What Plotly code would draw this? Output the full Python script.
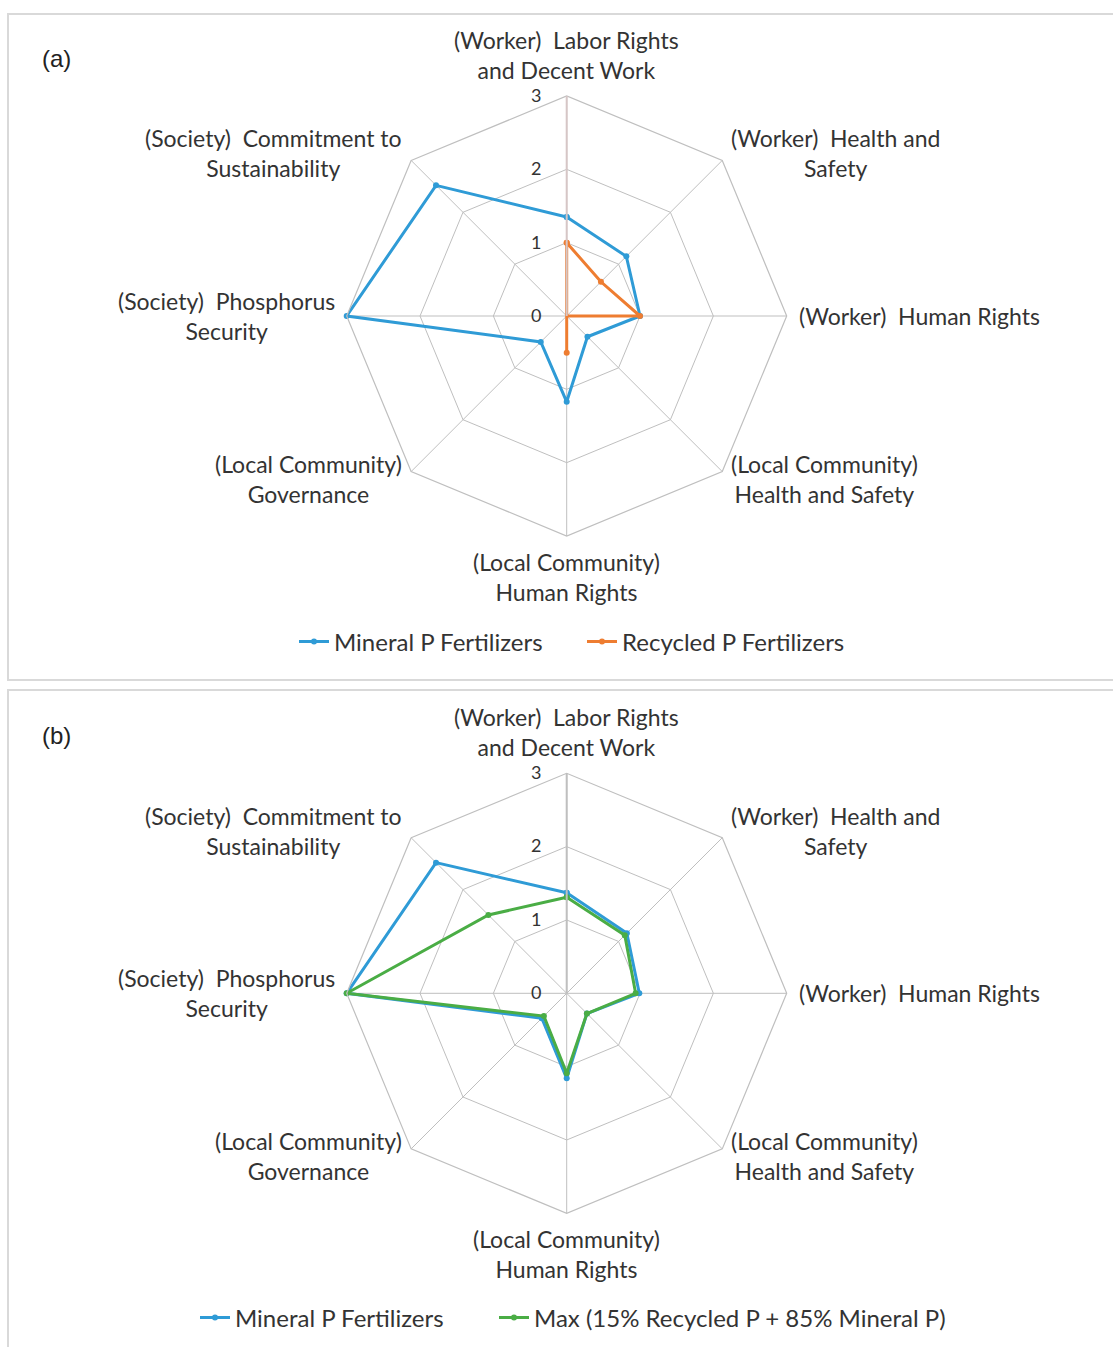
import math
import plotly.graph_objects as go

W, H = 1113, 1347

# Social-indicator axes, clockwise from the top
categories = [
    "(Worker)\u00a0 Labor Rights<br>and Decent Work",
    "(Worker)\u00a0 Health and<br>Safety",
    "(Worker)\u00a0 Human Rights",
    "(Local Community)<br>Health and Safety",
    "(Local Community)<br>Human Rights",
    "(Local Community)<br>Governance",
    "(Society)\u00a0 Phosphorus<br>Security",
    "(Society)\u00a0 Commitment to<br>Sustainability",
]

# Panel (a)
mineral_a = [1.35, 1.15, 1.0, 0.4, 1.17, 0.5, 3.0, 2.52]
recycled_a = [1.0, 0.66, 1.0, 0.0, 0.5, 0.0, 0.0, 0.0]

# Panel (b)
mineral_b = [1.37, 1.16, 0.99, 0.39, 1.16, 0.48, 3.0, 2.52]
blend_b = [1.31, 1.12, 0.94, 0.39, 1.09, 0.44, 3.0, 1.51]

radial_ticks = [0, 1, 2, 3]
series_names = {
    "mineral": "Mineral P Fertilizers",
    "recycled": "Recycled P Fertilizers",
    "blend": "Max (15% Recycled P + 85% Mineral P)",
}

BLUE = "#2f9bd6"
ORANGE = "#ee7d31"
GREEN = "#4aad45"
GRID = "#bfbfbf"
TEXT = "#333333"
FONT = "Lato"

# Geometry of the two radar panels (pixels)
CX = 566.7
CY_A, CY_B = 316.0, 993.3
R = 220.0


def closed(vals):
    return list(vals) + [vals[0]]


def px_x(x):
    return x / W


def px_y(y):
    return 1 - y / H


def polar_layout(cy, axis_color):
    return dict(
        domain=dict(x=[px_x(CX - R), px_x(CX + R)], y=[px_y(cy + R), px_y(cy - R)]),
        gridshape="linear",
        bgcolor="white",
        radialaxis=dict(
            range=[0, 3],
            tickvals=radial_ticks,
            ticktext=[str(v) for v in radial_ticks],
            angle=90,
            tickangle=90,
            side="counterclockwise",
            showline=True,
            linecolor=axis_color,
            linewidth=2,
            gridcolor=GRID,
            gridwidth=1.2,
            ticks="outside",
            ticklen=18,
            tickcolor="rgba(0,0,0,0)",
            tickfont=dict(family=FONT, size=18, color=TEXT),
        ),
        angularaxis=dict(
            direction="clockwise",
            rotation=90,
            showline=True,
            linecolor=GRID,
            linewidth=1.2,
            gridcolor=GRID,
            gridwidth=1.2,
            showticklabels=False,
            ticks="",
        ),
    )


def add_series(fig, vals, name, color, subplot, legend):
    fig.add_trace(
        go.Scatterpolar(
            r=closed(vals),
            theta=closed(categories),
            mode="lines+markers",
            name=name,
            line=dict(color=color, width=3),
            marker=dict(color=color, size=6),
            subplot=subplot,
            legend=legend,
            showlegend=True,
        )
    )


fig = go.Figure()
add_series(fig, mineral_a, series_names["mineral"], BLUE, "polar", "legend")
add_series(fig, recycled_a, series_names["recycled"], ORANGE, "polar", "legend2")
add_series(fig, mineral_b, series_names["mineral"], BLUE, "polar2", "legend3")
add_series(fig, blend_b, series_names["blend"], GREEN, "polar2", "legend4")

# Category labels placed just outside each outer vertex
annotations = []
for cy in (CY_A, CY_B):
    n = len(categories)
    for i, label in enumerate(categories):
        ang = 2 * math.pi * i / n
        s, c = math.sin(ang), math.cos(ang)
        pad = 10
        x = CX + (R + pad) * s
        y = cy - (R + pad) * c
        xanchor = "left" if s > 0.01 else ("right" if s < -0.01 else "center")
        yanchor = "bottom" if c > 0.9 else ("top" if c < -0.9 else "middle")
        annotations.append(
            dict(
                x=px_x(x), y=px_y(y), xref="paper", yref="paper",
                text=label, showarrow=False, align="center",
                xanchor=xanchor, yanchor=yanchor,
                font=dict(family=FONT, size=23, color=TEXT),
            )
        )

for txt, y in (("(a)", 58), ("(b)", 735)):
    annotations.append(
        dict(
            x=px_x(56), y=px_y(y), xref="paper", yref="paper", text=txt,
            showarrow=False, xanchor="center", yanchor="middle",
            font=dict(family="Liberation Sans", size=24, color="#222222"),
        )
    )


def legend_at(x, y):
    return dict(
        x=px_x(x), y=px_y(y),
        orientation="h",
        xanchor="left",
        yanchor="middle",
        bgcolor="rgba(0,0,0,0)",
        font=dict(family=FONT, size=24, color=TEXT),
    )


fig.update_layout(
    width=W,
    height=H,
    margin=dict(l=0, r=0, t=0, b=0),
    paper_bgcolor="white",
    showlegend=True,
    polar=polar_layout(CY_A, "#d6c6c6"),
    polar2=polar_layout(CY_B, GRID),
    legend=legend_at(294, 642),
    legend2=legend_at(582, 642),
    legend3=legend_at(195, 1318),
    legend4=legend_at(494, 1318),
    annotations=annotations,
    shapes=[
        dict(type="rect", xref="paper", yref="paper",
             x0=px_x(8), x1=1.05, y0=px_y(680), y1=px_y(14),
             line=dict(color="#d9d9d9", width=2), fillcolor="rgba(0,0,0,0)", layer="below"),
        dict(type="rect", xref="paper", yref="paper",
             x0=px_x(8), x1=1.05, y0=-0.05, y1=px_y(690),
             line=dict(color="#d9d9d9", width=2), fillcolor="rgba(0,0,0,0)", layer="below"),
    ],
)

fig.write_html("out.html")
